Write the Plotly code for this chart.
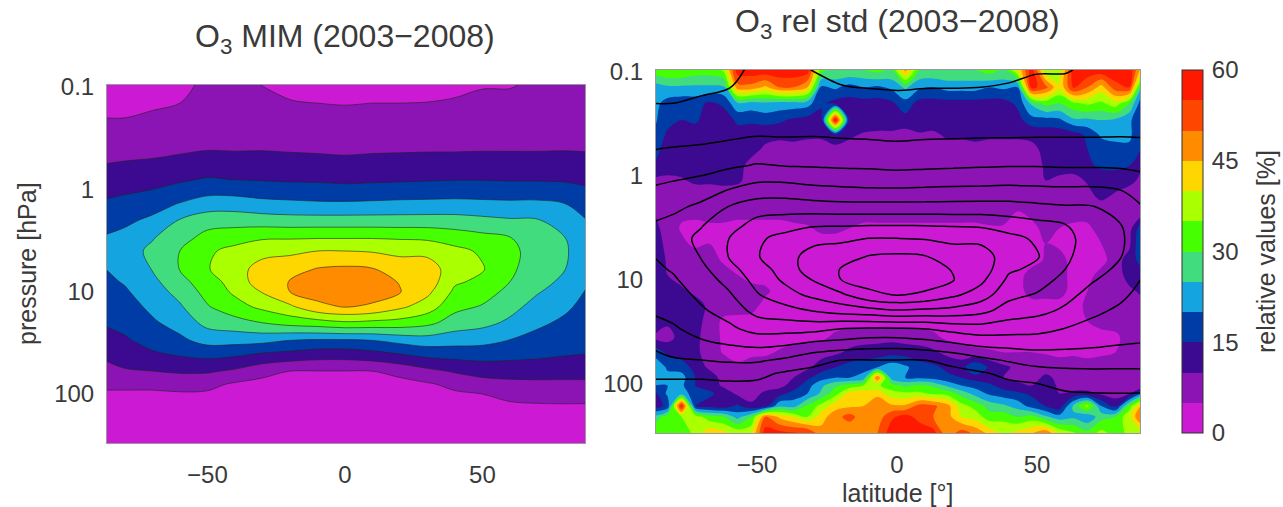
import plotly.graph_objects as go

W, H = 1283, 507
FONT = "Liberation Sans"
INK = "#3a3a3a"

colors = ["#cc1ad4", "#8c14b4", "#3c0a91", "#003ca5", "#14a5e1", "#41dc7d",
          "#46ff00", "#aaff00", "#ffd700", "#ff8c00", "#ff4600", "#ff1900"]

# ---------- left panel: zonal mean values ----------
mim_lat = [-87, -80, -70, -60, -50, -40, -30, -20, -10, 0, 10, 20, 30, 40, 50, 60, 70, 80, 88]
mim_p = [0.095, 0.14, 0.2, 0.3, 0.4, 0.6, 0.8, 1, 1.4, 2, 3, 4, 6, 8, 10, 14, 20, 30, 40, 60, 80, 100, 140, 200, 305]
mim_by_lat = [
 [3,4,5,7,8.5,10.3,12,13.5,15.8,18,20.5,22,20,19,18.2,17,15.6,13,11.2,8.3,5.9,4.4,3,2,1],
 [3,4,5,7,8.5,10.7,12.7,14.2,16.5,19,21.5,23,21.7,20.4,19.4,17.9,16.4,14.4,12.5,9.5,5.9,4.4,3,2,1],
 [3.5,4.3,5.6,7.4,8.8,11,13.3,15,18,21,24.7,26,25.2,23.8,22.7,21.1,19.3,16.6,14.5,9.9,5.9,4.4,3,2,1],
 [3.8,4.9,6.3,8,9.2,11.8,14.3,16.6,20.4,25.3,28,30,30.2,28.2,26.6,24.4,22,18.9,15.8,10.6,6.7,4.5,3,2,1],
 [6,6.5,7.2,8.5,9.7,12.8,15.4,18.1,22.5,27.7,31.9,34.4,34.7,33,31.7,29.6,26.6,21.7,16.9,10.6,6.2,4.4,3,2,1],
 [6,6.6,7.4,8.6,9.6,12.5,14.9,17.7,22.9,27.5,33.6,36.1,37.8,36.8,35.9,33.1,28.1,21.7,16.3,9.1,4.4,3.4,2.4,1.6,1],
 [4.9,5.9,7.2,8.6,9.7,12.4,14.7,17.2,21.7,27.3,34.6,38.2,42.2,43,40.3,36.2,30.1,21.4,14.8,6.5,3.6,2.8,2,1.4,1],
 [4.4,5.1,6.5,8.2,9.5,12,14.4,16.8,21.3,26.9,34.7,39,43,45.2,45,39.1,32,19.8,14,4.9,3.4,2.7,2,1.4,1],
 [4,4.9,6.3,8,9.3,11.9,14.3,16.7,20.9,26.9,34.9,40,45.3,47.3,47,43.8,33,19.2,12.9,4.8,3.4,2.7,2,1.4,1],
 [3.9,4.7,6.2,7.9,9.1,11.6,14,16.3,20.9,26.9,34.9,40,45.9,48.1,48,45.3,34.4,19.2,12.8,4.8,3.4,2.7,2,1.4,1],
 [4,4.9,6.3,8,9.3,11.9,14.2,16.6,21.1,26.9,34.9,39.6,45.3,47.3,47.1,44.3,33.8,19.8,13.8,4.9,3.4,2.7,2,1.4,1],
 [4,4.9,6.4,8.1,9.4,12,14.4,16.8,21.4,26.9,34.6,38.9,42.4,44.7,45.3,41,33.2,21.5,15.3,6.3,3.6,2.8,2,1.4,1],
 [4.2,5,6.5,8.2,9.5,12.2,14.6,17.2,21.4,27,34.3,38.4,42.8,42.8,41.2,37.6,31.4,22.6,17,8.6,4.5,3.4,2.4,1.6,1],
 [4.4,5.2,6.6,8.3,9.5,12.3,14.8,17.3,21.6,26.9,32.9,36.3,36.9,35.7,34,31.4,27.8,22,17.3,10.5,6.1,4.4,3,2,1],
 [4.7,5.9,7.1,8.6,9.6,12.4,14.8,17.3,21.3,26.2,31.6,34.3,35.4,33.9,32.1,29.6,26.5,21.5,17.4,11.9,7.9,5,3.4,2.2,1],
 [4.8,5.7,7.1,8.5,9.6,12.3,14.6,17.1,21.1,25.5,30.3,30.9,30.7,30,28.7,26.6,24.1,19.8,16.8,12.2,8.6,5.9,4.1,2.5,1],
 [5.5,6.2,7.3,8.6,9.6,12.3,14.6,17,21.2,25.3,27,28.5,28,26.6,25.4,23.2,21,18.3,16.3,12.1,8.9,6.3,4.2,2.5,1],
 [5.5,6.2,7.3,8.7,9.7,12.3,14.4,16.6,20.2,22.8,25.1,25.4,25.1,24,22.7,20.9,19.1,17,15.5,12,8.9,6.5,4.2,2.5,1],
 [5.5,6.2,7.3,8.6,9.6,11.9,14,15.5,17.7,20,22,23,21.5,20.4,19.6,18.5,17.3,16,15.1,11.8,9,6.4,4.2,2.5,1],
]
mim_z = [list(r) for r in zip(*mim_by_lat)]

# ---------- right panel: relative standard deviation ----------
std_lat = [-87, -82, -77, -72, -67, -62, -57, -52, -47, -42, -37, -32, -27, -22, -17, -12, -7, -2,
           3, 8, 13, 18, 23, 28, 33, 38, 43, 48, 53, 58, 63, 68, 73, 78, 83, 88]
std_p = [0.095, 0.14, 0.2, 0.29, 0.4, 0.55, 0.8, 1.1, 1.6, 2.2, 3.2, 4.5, 6.5, 9, 13, 18, 25, 36, 50, 70, 88, 105, 125, 165, 210, 305]
std_z = [
 [33,35,35,33,33,36, 58,59,59,59,59,58, 32,30,30,30,32,30, 47,30,30,30,30,30, 33,30,40,58,36,36, 58,59,59,59,59,40],
 [22,24,24,24,24,24, 48,48,44,50,50,45, 19,21,18,20,19,21, 26,21,20,22,22,22, 20,21,20,57,52,40, 56,50,43,53,55,20],
 [22,18,17,17,14,16, 24,23,24,23,23,22, 16,13,13,13,13,14, 18,13,13,13,13,13, 13,13,16,26,32,30, 34,36,34,38,30,15],
 [21,17,15,16,12,12, 16,16,17,16,14,13, 13,60,13,13,13,13, 13,13,13,13,13,13, 13,13,13,18,18,19, 24,24,25,24,21,15],
 [20,14,12,12,12,13, 13,12,11,11,11,11, 11,15,11,9.5,9,9, 8,9.5,9,11,11,12, 11,11,11,11,12,12, 13,16,21,22,21,15],
 [17,13,12,12,12,12, 12,11,9.5,8.5,9,8, 8,8,8,8,8,8, 8,8,8,8,8,8, 8,8,8,9,11,12, 13,15,17,18,19,14],
 [15,12,12,12,12,11, 11,9,8,8,8,8, 8,8,8,8,8,8, 8,8,8,8,8,8, 8,8,8,8,10.5,12, 12,14,16,16,15,10],
 [9,9,9.5,11,11,11.5, 11,8,8,8,8,8, 8,8,8,8,8,8, 8,8,8,8,8,8, 8,8,8,8,10,9, 8.5,10.5,12,12.5,11,9],
 [9,8,8,7,7,7, 7,7,7,7,7,7, 7,7,7,7,7,7, 7,7,7,7,7,7, 7,7,7,7,7.5,7.5, 7,8.5,11,9,8,8],
 [10,8,6,6,7,7, 7,7,7,7,7,7, 7,7,7,7,7,7, 7,7,7,7,7,7, 7,7,5,6,7,7, 7,7,7,9,8,8],
 [12,7.5,4.5,4,4,4, 3,3,3,3,4,4.5, 6,6,5,4,4,4, 4,4,4,4,4,4, 4.5,4.5,4,4,6,5, 4,4,7,8,8,20],
 [14,8,6,4,5,4, 3,3,3,3,3,3, 3,3,3,3,3,3, 3,3,3,3,3,3, 3,3,3,3,5,4, 3,4,5,7,9,22],
 [16,9,8,8,8,4, 3,3,3,3,3,3, 3,3,3,3,3,3, 3,3,3,3,3,3, 3,3,3,3,5.5,7, 3,3,3,8,12,18],
 [14,10,8,8,8,8, 5,3,3,3,3,3, 3,3,3,3,3,3, 3,3,3,3,3,3, 3,3,3,7,7.5,7.5, 3,3,7,7.5,12,13],
 [12,10.5,11,9,8,8, 8,7,6,3,3,3, 3,3,3,3,3,3, 3,3,3,3,3,3, 3,3,3,7,7,7, 3,5,7,8,9,11],
 [12,13,13,12,9,7.5, 8,7,3,3,3,3, 3,3,3,3,3,3, 3,3,3,3,3,3, 3,3,3,3,3,3, 3,6,7,7,8,9],
 [12,11,12,12,8,4, 3,3,3,3,3,3, 3,3,3,3,3,3, 3,3,3,3,3,3, 3,3,3,3,3,3, 4,5,6,7,8.5,9],
 [10,8,12,11,8,4, 3,3,3,3,3,3.5, 4,6,7.5,8,8.5,8.5, 8,7.5,6,4,3,3, 3,3,3,3,3,3, 3,3,4,4,7,9],
 [18,14,12,11,8,4.5, 3,4,4,5.5,7,8, 8,9,11,12,12,13, 12.5,12,11,8.5,7,6, 5.5,5,5,5,4.5,4, 4,3,4,5,6,8],
 [26,19,18,13,9,8, 6,7,8,8.5,9,9, 12.5,15,17,18,20,23, 21,17,16,14,13,20, 14,11,9,8,8,7, 8,8,8,8,8,8],
 [22,22,22,15,13,8, 8,8,8,8,10,14, 18,20,20,22,50,23, 20,19,18,16,15,13, 12,10,9,8,11,9, 8,8,8,8,8,8],
 [20,20,21,15,13,9, 8,8,8,8.5,12,18, 24,29,32,35,36,32, 29,31,29,24,20,18, 16,13,11,10,13,9, 8,8,8,8.5,8,8],
 [13,21,22,18,16,13, 9,8,11,13,17,20, 26,33,42,43,43,37, 36,36,34,33,28,23, 19,17,16,14,12,10, 11,11,9,8,9,22],
 [13,16,58,15,13,12, 16,11,13,24,23,31, 37,43,44,45,50,46, 46,52,51,47,37,33, 28,26,23,18,15,12, 26,37,20,13,32,48],
 [26,33,35,38,32,30, 23,30,50,44,40,35, 43,48,52,47,47,54, 57,53,50,47,40,38, 32,33,30,32,26,22, 24,21,28,30,39,53],
 [33,34,30,37,44,42, 39,40,58,57,56,56, 47,47,45,47,50,58, 59,59,57,47,53,49, 44,40,42,45,50,40, 36,32,37,33,36,38],
]

x_ticks = [-50, 0, 50]
p_ticks = [0.1, 1, 10, 100]
p_labels = ["0.1", "1", "10", "100"]
cbar_ticks = [0, 15, 30, 45, 60]

n = len(colors)
scale = []
for i, c in enumerate(colors):
    scale += [[i / n, c], [(i + 1) / n, c]]


def fx(px):
    return px / W


def fy(py):
    return 1 - py / H


levels = dict(start=0, end=60, size=5, coloring="fill", showlines=True)

fig = go.Figure()
fig.add_trace(go.Contour(
    x=mim_lat, y=mim_p, z=mim_z, xaxis="x", yaxis="y",
    zmin=0, zmax=60, autocontour=False, contours=levels, colorscale=scale,
    line=dict(color="#222222", width=0.6), showscale=False, hoverinfo="skip"))
fig.add_trace(go.Contour(
    x=std_lat, y=std_p, z=std_z, xaxis="x2", yaxis="y2",
    zmin=0, zmax=60, autocontour=False,
    contours=dict(start=0, end=60, size=5, coloring="fill", showlines=False),
    colorscale=scale, line=dict(width=0), hoverinfo="skip",
    colorbar=dict(
        x=fx(1182), xanchor="left", xref="paper",
        y=fy(70), yanchor="top", yref="paper",
        len=363 / H, lenmode="fraction", thickness=21, thicknessmode="pixels",
        xpad=0, ypad=0, outlinecolor="#333333", outlinewidth=1,
        tickmode="array", tickvals=cbar_ticks, ticks="outside", ticklen=4,
        tickcolor="rgba(0,0,0,0)",
        tickfont=dict(family=FONT, size=24, color=INK),
    )))
fig.add_trace(go.Contour(
    x=mim_lat, y=mim_p, z=mim_z, xaxis="x2", yaxis="y2",
    autocontour=False, contours=dict(start=5, end=45, size=5, coloring="none"),
    line=dict(color="#000000", width=1.5), showscale=False, hoverinfo="skip"))

axis_x = dict(showgrid=False, zeroline=False, showline=True, mirror=True,
              linecolor="#999999", linewidth=1, tickmode="array", tickvals=x_ticks,
              ticks="outside", tickcolor="rgba(0,0,0,0)",
              tickfont=dict(family=FONT, size=24, color=INK))
axis_y = dict(type="log", showgrid=False, zeroline=False, showline=True, mirror=True,
              linecolor="#999999", linewidth=1, tickmode="array", tickvals=p_ticks,
              ticktext=p_labels, ticks="outside", tickcolor="rgba(0,0,0,0)", ticklen=7,
              range=[2.478, -1.02], tickfont=dict(family=FONT, size=24, color=INK))

fig.update_layout(
    width=W, height=H, autosize=False, margin=dict(l=0, r=0, t=0, b=0, autoexpand=False),
    paper_bgcolor="white", plot_bgcolor="white", showlegend=False,
    font=dict(family=FONT, color=INK),
    xaxis=dict(axis_x, domain=[fx(107), fx(585)], range=[-86.5, 87.3], anchor="y", ticklen=10),
    yaxis=dict(axis_y, domain=[fy(443), fy(85)], anchor="x"),
    xaxis2=dict(axis_x, domain=[fx(656), fx(1140)], range=[-86.1, 86.8], anchor="y2", ticklen=10),
    yaxis2=dict(axis_y, domain=[fy(433), fy(70)], anchor="x2"),
    annotations=[
        dict(text="O<sub>3</sub> MIM (2003\u22122008)", x=fx(345), y=fy(39), xref="paper", yref="paper",
             showarrow=False, xanchor="center", yanchor="middle",
             font=dict(family=FONT, size=32, color=INK)),
        dict(text="O<sub>3</sub> rel std (2003\u22122008)", x=fx(897), y=fy(23), xref="paper", yref="paper",
             showarrow=False, xanchor="center", yanchor="middle",
             font=dict(family=FONT, size=32, color=INK)),
        dict(text="pressure [hPa]", x=fx(27), y=fy(264), xref="paper", yref="paper", textangle=-90,
             showarrow=False, xanchor="center", yanchor="middle",
             font=dict(family=FONT, size=25, color=INK)),
        dict(text="latitude [\u00b0]", x=fx(897), y=fy(493), xref="paper", yref="paper",
             showarrow=False, xanchor="center", yanchor="middle",
             font=dict(family=FONT, size=25, color=INK)),
        dict(text="relative values [%]", x=fx(1266), y=fy(252), xref="paper", yref="paper", textangle=-90,
             showarrow=False, xanchor="center", yanchor="middle",
             font=dict(family=FONT, size=25, color=INK)),
    ],
)

fig.write_html("out.html", config=dict(displayModeBar=False),
               post_script="document.body.style.margin='0';document.documentElement.style.overflow='hidden';")
